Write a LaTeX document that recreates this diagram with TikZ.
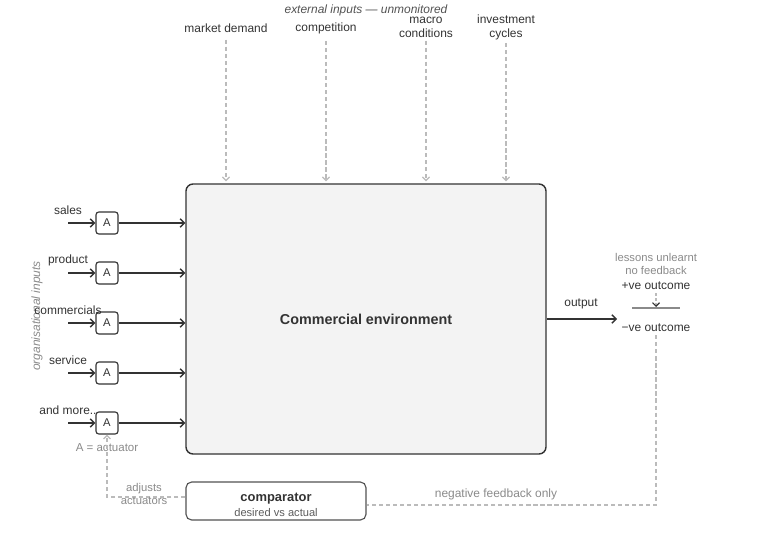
\documentclass[tikz,border=0pt]{standalone}
\usepackage{fontspec}
\setmainfont{Liberation Sans}
\usetikzlibrary{positioning,arrows.meta}
\definecolor{ink}{HTML}{333333}
\definecolor{faint}{HTML}{8A8A8A}
\definecolor{dashgray}{HTML}{BBBBBB}
\definecolor{envfill}{HTML}{F3F3F3}

\begin{document}
\begin{tikzpicture}[x=0.025cm, y=-0.025cm]
  \def\px{0.025cm}
  \tikzstyle{lbl} = [font=\fontsize{8.5}{10}\selectfont, text=ink, inner sep=0pt, align=center]
  \tikzstyle{note} = [font=\fontsize{8}{8.6}\selectfont, text=faint, inner sep=0pt, align=center]
  \tikzstyle{actuator} = [draw=ink, fill=white, rounded corners=2pt, line width=0.8pt, minimum size=22*\px, inner sep=0pt, font=\fontsize{8}{9}\selectfont, text=ink]
  \tikzstyle{flow} = [draw=ink, line width=1pt, -{Straight Barb[length=3pt, width=6pt]}]
  \tikzstyle{ext} = [draw=dashgray, line width=0.9pt, dash pattern=on 3pt off 2pt]
  \tikzstyle{extarrow} = [ext, -{Straight Barb[length=2.5pt, width=5pt]}]

  \useasboundingbox (0,0) rectangle (762,559);

  % commercial environment
  \node[draw=ink, fill=envfill, rounded corners=5pt, line width=1pt, minimum width=360*\px, minimum height=270*\px, font=\fontsize{10.2}{12}\selectfont\bfseries, text=ink] (env) at (366,319) {Commercial environment};

  % external inputs
  \node[lbl, font=\fontsize{8.5}{10}\selectfont\itshape, text=ink!85] (extTitle) at (366,10) {external inputs --- unmonitored};
  \node[lbl] (demand) at (226,28) {market demand};
  \node[lbl] (competition) at (326,28) {competition};
  \node[lbl] (macro) at (426,27) {macro\\conditions};
  \node[lbl] (invest) at (506,27) {investment\\cycles};
  \draw[extarrow, shorten <=7*\px, shorten >=2*\px] (demand) -- (demand |- env.north);
  \draw[extarrow, shorten <=7*\px, shorten >=2*\px] (competition) -- (competition |- env.north);
  \draw[extarrow, shorten <=3*\px, shorten >=2*\px] (macro) -- (macro |- env.north);
  \draw[extarrow, shorten <=3*\px, shorten >=2*\px] (invest) -- (invest |- env.north);

  % organisational inputs
  \node[note, rotate=90, font=\fontsize{8.5}{10}\selectfont\itshape] (orgTitle) at (37,316) {organisational inputs};

  \node[actuator] (sales) at (107,223) {A};
  \node[actuator] (product) at (107,273) {A};
  \node[actuator] (commercials) at (107,323) {A};
  \node[actuator] (service) at (107,373) {A};
  \node[actuator] (more) at (107,423) {A};

  \node[lbl] (salesL) at (68,210) {sales};
  \node[lbl] (productL) at (68,260) {product};
  \node[lbl] (commercialsL) at (68,310) {commercials};
  \node[lbl] (serviceL) at (68,360) {service};
  \node[lbl] (moreL) at (68,410) {and more..};

  \coordinate (salesIn) at (68,223);
  \coordinate (productIn) at (68,273);
  \coordinate (commercialsIn) at (68,323);
  \coordinate (serviceIn) at (68,373);
  \coordinate (moreIn) at (68,423);

  \draw[flow] (salesIn) -- (sales);
  \draw[flow] (productIn) -- (product);
  \draw[flow] (commercialsIn) -- (commercials);
  \draw[flow] (serviceIn) -- (service);
  \draw[flow] (moreIn) -- (more);

  \draw[flow] (sales) -- (sales -| env.west);
  \draw[flow] (product) -- (product -| env.west);
  \draw[flow] (commercials) -- (commercials -| env.west);
  \draw[flow] (service) -- (service -| env.west);
  \draw[flow] (more) -- (more -| env.west);

  \node[note, font=\fontsize{8.2}{10}\selectfont] (legend) at (107,448) {A = actuator};

  % output side
  \coordinate (out) at (617,319);
  \draw[flow] (env.east |- out) -- (out);
  \node[lbl] (outL) at (581,304) {output};

  \node[note] (lessons) at (656,264) {lessons unlearnt\\no feedback};
  \node[lbl] (plus) at (656,286) {+ve outcome};
  \node[lbl] (minus) at (656,328) {−ve outcome};
  \coordinate (barL) at (632,308);
  \coordinate (barR) at (680,308);
  \draw[draw=faint, line width=1.2pt] (barL) -- (barR);
  \draw[ext, dash pattern=on 2pt off 1.5pt, -{Straight Barb[length=2.5pt, width=5pt, color=ink, line width=0.8pt]}, shorten <=3*\px, shorten >=1*\px] (plus) -- (plus |- barL);

  % comparator loop
  \node[draw=ink!85, rounded corners=4pt, line width=0.8pt, minimum width=180*\px, minimum height=38*\px] (comp) at (276,501) {};
  \node[lbl, font=\fontsize{9.2}{11}\selectfont\bfseries] (compL) at (276,499) {comparator};
  \node[lbl, font=\fontsize{7.9}{9}\selectfont, text=ink!80] (compSub) at (276,513) {desired vs actual};

  \coordinate (fbCorner) at (656,505);
  \draw[ext, shorten <=3*\px] (minus) -- (fbCorner) -- (fbCorner -| comp.east);
  \node[note, font=\fontsize{8.5}{10}\selectfont] (fbL) at (496,494) {negative feedback only};

  \coordinate (adjCorner) at (107,497);
  \draw[extarrow] (adjCorner -| comp.west) -- (adjCorner) -- (more);
  \node[note] (adjL) at (144,494) {adjusts\\actuators};
\end{tikzpicture}
\end{document}
